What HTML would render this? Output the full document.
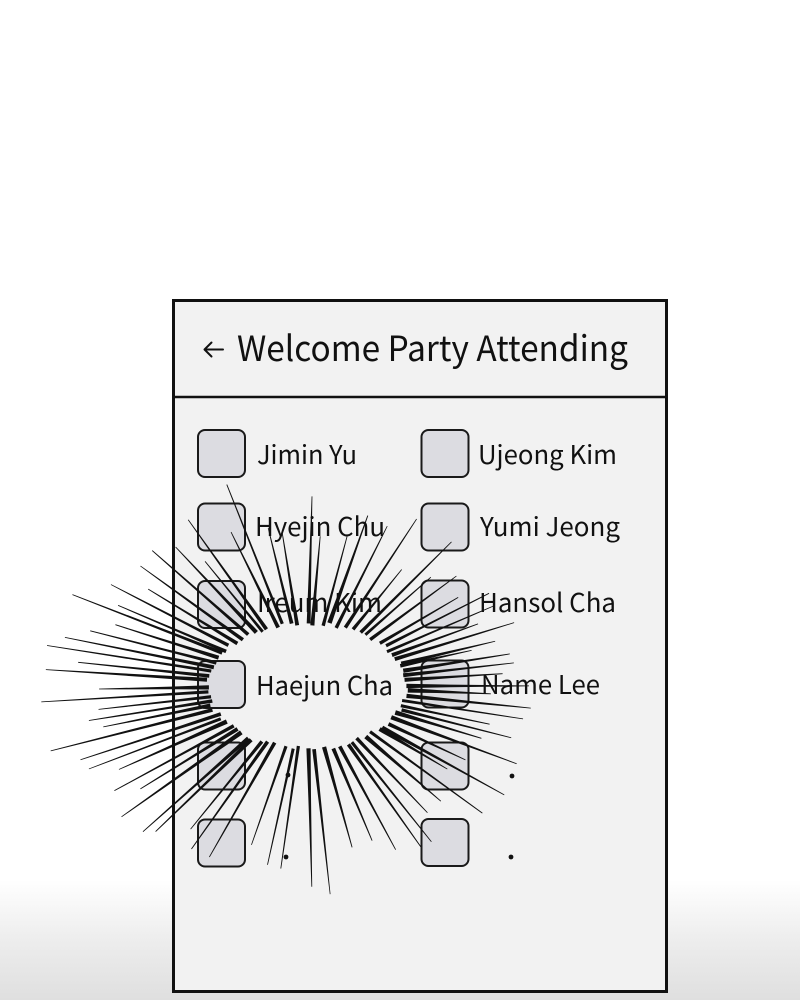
<!DOCTYPE html>
<html><head><meta charset="utf-8">
<style>
html,body{margin:0;padding:0;}
body{width:800px;height:1000px;overflow:hidden;background:linear-gradient(to bottom,#ffffff 0%,#ffffff 88%,#ededed 94%,#dfdfdf 100%);}
svg{display:block;}
text{font-family:"Noto Sans CJK KR","Liberation Sans",sans-serif;fill:#111;}
</style></head>
<body>
<svg width="800" height="1000" viewBox="0 0 800 1000" xmlns="http://www.w3.org/2000/svg">
  <rect x="173.5" y="300.5" width="493" height="691" fill="#f2f2f2" stroke="#111" stroke-width="3"/>
  <line x1="173" y1="397" x2="667" y2="397" stroke="#111" stroke-width="2.5"/>
  <path d="M223 349.5 H204.5 M211.5 342.5 L204.5 349.5 L211.5 356.5" stroke="#111" stroke-width="2" fill="none" stroke-linecap="round" stroke-linejoin="round"/>
  <text x="237" y="361" font-size="35" textLength="391" lengthAdjust="spacingAndGlyphs">Welcome Party Attending</text>

  <g fill="#dcdce1" stroke="#1a1a1a" stroke-width="2">
    <rect x="198" y="430" width="47" height="47" rx="7"/>
    <rect x="198" y="503.5" width="47" height="47" rx="7"/>
    <rect x="198" y="581" width="47" height="47" rx="7"/>
    <rect x="198" y="661" width="47" height="47" rx="7"/>
    <rect x="198" y="742.5" width="47" height="47" rx="7"/>
    <rect x="198" y="819.5" width="47" height="47" rx="7"/>
    <rect x="421.5" y="430" width="47" height="47" rx="7"/>
    <rect x="421.5" y="503.5" width="47" height="47" rx="7"/>
    <rect x="421.5" y="580.5" width="47" height="47" rx="7"/>
    <rect x="421.5" y="660.5" width="47" height="47" rx="7"/>
    <rect x="421.5" y="742.5" width="47" height="47" rx="7"/>
    <rect x="421.5" y="819" width="47" height="47" rx="7"/>
  </g>

  <g font-size="26">
    <text x="257" y="464" textLength="100" lengthAdjust="spacingAndGlyphs">Jimin Yu</text>
    <text x="478" y="464" textLength="139" lengthAdjust="spacingAndGlyphs">Ujeong Kim</text>
    <text x="255" y="536" textLength="130" lengthAdjust="spacingAndGlyphs">Hyejin Chu</text>
    <text x="480" y="536" textLength="140" lengthAdjust="spacingAndGlyphs">Yumi Jeong</text>
    <text x="257" y="612" textLength="125" lengthAdjust="spacingAndGlyphs">Ireum Kim</text>
    <text x="479" y="612" textLength="137" lengthAdjust="spacingAndGlyphs">Hansol Cha</text>
    <text x="256" y="695" textLength="137" lengthAdjust="spacingAndGlyphs">Haejun Cha</text>
    <text x="481" y="694" textLength="119" lengthAdjust="spacingAndGlyphs">Name Lee</text>
  </g>

  <g fill="#111">
    <circle cx="288" cy="775" r="2.4"/>
    <circle cx="286" cy="857" r="2.4"/>
    <circle cx="512" cy="776" r="2.4"/>
    <circle cx="511" cy="857" r="2.4"/>
  </g>

  <g id="rays" fill="#111"></g>
</svg>
<script>
(function(){
  var g=document.getElementById('rays');
  var NS='http://www.w3.org/2000/svg';
  var cx=307,cy=686,rx=96,ry=59;
  var s=987654321;
  function r(){s=(s*1103515245+12345)%2147483648;return s/2147483648;}
  var N=80;
  for(var i=0;i<N;i++){
    var t=2*Math.PI*i/N+(r()-0.5)*0.05;
    var ex=Math.cos(t),ey=Math.sin(t);
    var dx=rx*ex,dy=ry*ey;
    var dl=Math.sqrt(dx*dx+dy*dy);dx/=dl;dy/=dl;
    var px=cx+rx*ex,py=cy+ry*ey;
    var base=145+22*(-ex)+18*Math.max(ey,0);
    var L=base*(0.55+0.45*r());
    var st=1+r()*5;
    var w=3.0+r()*1.6;
    var ix=px+dx*st,iy=py+dy*st;
    var mx=ix+dx*L*0.35,my=iy+dy*L*0.35;
    var ox=ix+dx*L,oy=iy+dy*L;
    var nx=-dy,ny=dx;
    var wm=w*0.65;
    function f(x,y){return x.toFixed(1)+','+y.toFixed(1);}
    var pts=[
      f(ix+nx*w/2,iy+ny*w/2),
      f(mx+nx*wm/2,my+ny*wm/2),
      f(ox+nx*0.4,oy+ny*0.4),
      f(ox-nx*0.4,oy-ny*0.4),
      f(mx-nx*wm/2,my-ny*wm/2),
      f(ix-nx*w/2,iy-ny*w/2)
    ].join(' ');
    var p=document.createElementNS(NS,'polygon');
    p.setAttribute('points',pts);
    g.appendChild(p);
  }
})();
</script>
</body></html>
